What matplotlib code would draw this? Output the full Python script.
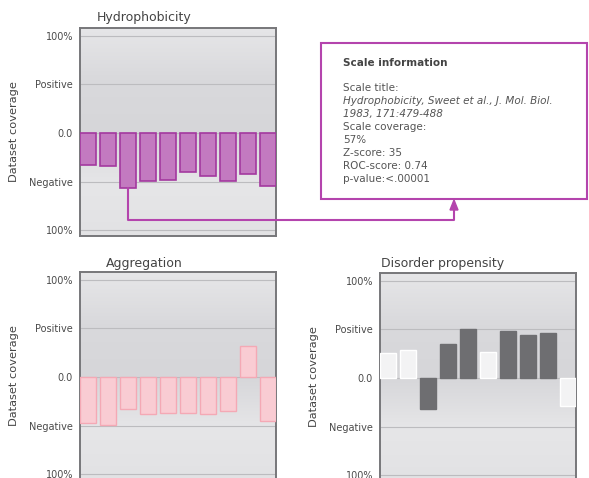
import matplotlib

matplotlib.use("Agg")
import matplotlib.pyplot as plt
import numpy as np
from matplotlib.colors import LinearSegmentedColormap

# bar values, fraction of dataset coverage (positive up, negative down)
hydro = [-0.33, -0.34, -0.565, -0.49, -0.48, -0.40, -0.44, -0.49, -0.42, -0.55]
aggreg = [-0.47, -0.49, -0.33, -0.38, -0.37, -0.37, -0.38, -0.35, 0.32, -0.45]
disorder = [0.26, 0.29, -0.32, 0.35, 0.50, 0.27, 0.48, 0.44, 0.46, -0.29]
disorder_dark = [False, False, True, True, True, False, True, True, True, False]

tick_vals = [1.0, 0.5, 0.0, -0.5, -1.0]
tick_labels = ["100%", "Positive", "0.0", "Negative", "100%"]

info_lines = [
    ("Scale title:", "normal"),
    ("Hydrophobicity, Sweet et al., J. Mol. Biol.", "italic"),
    ("1983, 171:479-488", "italic"),
    ("Scale coverage:", "normal"),
    ("57%", "normal"),
    ("Z-score: 35", "normal"),
    ("ROC-score: 0.74", "normal"),
    ("p-value:<.00001", "normal"),
]

W, H = 589, 478
YLIM = (-1.06, 1.08)
bg_cmap = LinearSegmentedColormap.from_list(
    "bg", ["#e2e2e4", "#e6e6e8", "#d6d6d9", "#d9d9dc", "#e6e6e8"]
)


def setup_panel(ax):
    n = 10
    ax.set_xlim(-0.41, n - 0.59)
    ax.set_ylim(*YLIM)
    grad = np.linspace(1, 0, 200).reshape(-1, 1)
    ax.imshow(grad, aspect="auto", cmap=bg_cmap, extent=(-0.41, n - 0.59, YLIM[0], YLIM[1]),
              zorder=0, origin="upper")
    for v in tick_vals:
        ax.axhline(v, color="#bcbcbf", lw=0.8, zorder=1)
    ax.set_yticks(tick_vals)
    ax.set_yticklabels(tick_labels, fontsize=7, color="#4a4a4a")
    ax.tick_params(axis="y", length=0, pad=5)
    ax.set_xticks([])
    for s in ax.spines.values():
        s.set_color("#77777a")
        s.set_linewidth(1.4)
    ax.set_ylabel("Dataset coverage", fontsize=8.2, color="#444444", labelpad=7)


fig = plt.figure(figsize=(W / 100, H / 100), dpi=100)
fig.patch.set_facecolor("white")

ax1 = fig.add_axes([80 / W, 1 - 236 / H, 196 / W, 208 / H])
ax2 = fig.add_axes([80 / W, 1 - 480 / H, 196 / W, 208 / H])
ax3 = fig.add_axes([380 / W, 1 - 481 / H, 196 / W, 208 / H])

x = np.arange(10)
for ax in (ax1, ax2, ax3):
    setup_panel(ax)

ax1.bar(x, hydro, width=0.82, color="#c37ac0", edgecolor="#a3399f", linewidth=1.2, zorder=3)
ax2.bar(x, aggreg, width=0.82, color="#f9ccd3", edgecolor="#f4a9b5", linewidth=1.0, zorder=3)
dcol = ["#6e6e71" if d else "#f3f3f4" for d in disorder_dark]
decol = ["#6e6e71" if d else "#ffffff" for d in disorder_dark]
ax3.bar(x, disorder, width=0.82, color=dcol, edgecolor=decol, linewidth=1.0, zorder=3)

fig.text(144 / W, 1 - 18 / H, "Hydrophobicity", fontsize=9, color="#444444", ha="center", va="center")
fig.text(144 / W, 1 - 263 / H, "Aggregation", fontsize=9, color="#444444", ha="center", va="center")
fig.text(443 / W, 1 - 263 / H, "Disorder propensity", fontsize=9, color="#444444", ha="center", va="center")

# info box
purple = "#b444ad"
box = plt.Rectangle((321 / W, 1 - 199 / H), 266 / W, 156 / H, transform=fig.transFigure,
                    facecolor="white", edgecolor=purple, linewidth=1.5)
fig.patches.append(box)
fig.text(343 / W, 1 - 63 / H, "Scale information", fontsize=7.5, fontweight="bold",
         color="#444444", va="center")
for i, (line, style) in enumerate(info_lines):
    fig.text(343 / W, 1 - (88 + 13 * i) / H, line, fontsize=7.5, style=style,
             color="#555555", va="center")

# connector from the third hydrophobicity bar to the info box
to_fig = fig.transFigure.inverted()
sx, sy = to_fig.transform(ax1.transData.transform((2, hydro[2])))
_, ly = to_fig.transform(ax1.transData.transform((2, -0.90)))
ex = 454 / W
ey = 1 - 200 / H
fig.add_artist(plt.Line2D([sx, sx, ex, ex], [sy, ly, ly, ey - 8 / H], transform=fig.transFigure,
                          color=purple, lw=1.5))
fig.add_artist(plt.Polygon([[ex - 4 / W, ey - 10 / H], [ex + 4 / W, ey - 10 / H], [ex, ey]],
                           closed=True, transform=fig.transFigure, color=purple))

fig.savefig("out.png", dpi=100)
